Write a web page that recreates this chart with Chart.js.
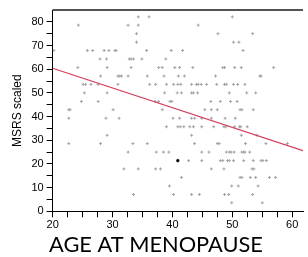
<!DOCTYPE html>
<html>
<head>
<meta charset="utf-8">
<script src="https://cdn.jsdelivr.net/npm/chart.js@4.4.1/dist/chart.umd.min.js"></script>
<style>
  html, body { margin: 0; padding: 0; background: #fff; }
  #wrap { width: 308px; height: 257px; }
</style>
</head>
<body>
<div id="wrap"><canvas id="scatter"></canvas></div>
<script>
// MSRS scaled levels (values come in steps of 100/28) and the ages read at each level
const msrsLevels = [82.1, 78.6, 75.0, 71.4, 67.9, 64.3, 60.7, 57.1, 53.6, 50.0, 46.4, 42.9,
                    39.3, 35.7, 32.1, 28.6, 25.0, 21.4, 17.9, 14.3, 10.7, 7.1, 3.6];
const agesAtLevel = [
  [34.3, 36.1, 50.0],
  [24.3, 32.6, 34.3, 44.3],
  [34.0, 47.6, 53.4],
  [34.0, 50.2, 51.1],
  [20.2, 25.8, 26.7, 28.6, 29.4, 30.4, 30.6, 35.7, 39.8, 41.7, 51.8],
  [27.9, 29.0, 32.8, 33.1, 33.5, 34.9, 38.9],
  [24.2, 29.1, 33.1, 37.7, 38.3, 40.4, 41.2, 43.4, 48.4, 48.7, 50.4, 51.5, 56.9],
  [28.0, 30.9, 31.2, 31.5, 32.6, 35.8, 38.6, 41.0, 42.0, 47.2, 54.6, 54.8],
  [25.1, 25.5, 26.4, 27.6, 30.9, 36.2, 37.2, 39.0, 40.2, 40.9, 41.4, 43.2, 44.0, 44.3, 44.8, 45.7, 47.4, 48.7, 49.0, 50.2, 50.9, 52.1],
  [25.3, 29.1, 38.7, 40.8, 41.5, 43.2, 43.5, 44.2, 49.5, 52.4, 53.9],
  [24.8, 27.6, 37.1, 37.7, 39.6, 39.9, 46.4, 48.0, 49.7, 50.8],
  [22.7, 22.9, 30.1, 38.3, 45.4, 46.5, 47.5, 51.3, 51.6, 53.5],
  [22.7, 28.9, 31.1, 40.1, 41.2, 43.2, 43.7, 44.9, 46.5, 48.8, 50.5],
  [39.0, 40.9, 41.3, 41.9, 42.9, 43.5, 44.9, 46.9, 48.6, 48.9, 50.4, 51.2, 51.4, 52.5],
  [29.1, 43.2, 51.5, 54.1],
  [22.7, 28.0, 33.4, 35.8, 43.7, 47.5, 47.8, 52.2, 55.6, 59.2],
  [32.6, 37.3, 38.5, 39.4, 44.9, 46.1, 49.0, 49.5, 49.8, 50.3, 51.6, 51.9, 52.1, 52.9],
  [42.7, 44.9, 48.0, 48.4, 49.2, 49.5, 50.2, 51.9, 53.5, 54.8, 55.1, 55.7],
  [31.9, 34.3, 37.2, 38.0, 46.5, 48.6, 53.3, 53.6],
  [41.5, 51.3, 51.6, 53.0, 53.9, 56.2, 57.2],
  [39.5, 49.9, 51.0, 54.3],
  [33.5, 40.2, 43.2, 44.5, 48.7, 49.4, 53.4],
  [49.9, 55.0]
];

// the one dark (selected) point
const highlightAge = [40.9];
const highlightMsrs = [21.4];

// fitted regression line, values at the two ends of the x axis
const fitAge = [20, 61.8];
const fitMsrs = [60.4, 25.6];

// ticks
const xTickValues = [20, 22.5, 25, 27.5, 30, 32.5, 35, 37.5, 40, 42.5, 45, 47.5, 50, 52.5, 55, 57.5, 60];
const xLabelValues = [20, 30, 40, 50, 60];
const xTickLabels = ['20', '30', '40', '50', '60'];
const yTickValues = [0, 5, 10, 15, 20, 25, 30, 35, 40, 45, 50, 55, 60, 65, 70, 75, 80];
const yLabelValues = [0, 10, 20, 30, 40, 50, 60, 70, 80];
const yTickLabels = ['0', '10', '20', '30', '40', '50', '60', '70', '80'];

const scatterPoints = [];
msrsLevels.forEach((level, i) => {
  agesAtLevel[i].forEach(age => scatterPoints.push({ x: age, y: level }));
});
const highlightPoints = highlightAge.map((a, i) => ({ x: a, y: highlightMsrs[i] }));
const fitPoints = fitAge.map((a, i) => ({ x: a, y: fitMsrs[i] }));

// dark line along the top of the plot area
const topFrame = {
  id: 'topFrame',
  afterDraw(chart) {
    const { ctx, chartArea } = chart;
    ctx.save();
    ctx.strokeStyle = '#1a1a1a';
    ctx.lineWidth = 1.5;
    ctx.beginPath();
    ctx.moveTo(chartArea.left, chartArea.top);
    ctx.lineTo(chartArea.right, chartArea.top);
    ctx.stroke();
    ctx.restore();
  }
};

const tickFont = { family: 'Liberation Sans', size: 11 };

new Chart(document.getElementById('scatter'), {
  type: 'scatter',
  data: {
    datasets: [
      {
        label: 'fit',
        data: fitPoints,
        showLine: true,
        borderColor: '#d63c5c',
        borderWidth: 1.2,
        pointRadius: 0,
        order: 1
      },
      {
        label: 'selected',
        data: highlightPoints,
        pointStyle: 'circle',
        pointRadius: 1.4,
        backgroundColor: '#000',
        borderColor: '#000',
        borderWidth: 0.5,
        order: 0
      },
      {
        label: 'MSRS',
        data: scatterPoints,
        pointStyle: 'cross',
        pointRadius: 1.5,
        borderColor: '#a3a3a3',
        borderWidth: 1,
        order: 2
      }
    ]
  },
  options: {
    responsive: true,
    maintainAspectRatio: false,
    animation: false,
    devicePixelRatio: 1,
    layout: { padding: { left: 4, top: 10, right: 0, bottom: 0 } },
    plugins: {
      legend: { display: false },
      tooltip: { enabled: false },
      title: {
        display: true,
        text: 'AGE AT MENOPAUSE',
        position: 'bottom',
        color: '#000',
        font: { family: 'Lato', size: 21.8, weight: 'normal', lineHeight: 1.1 },
        padding: { top: 0, bottom: 0.5 }
      }
    },
    scales: {
      x: {
        type: 'linear',
        min: 20,
        max: 61.8,
        afterBuildTicks: axis => { axis.ticks = xTickValues.map(v => ({ value: v })); },
        ticks: {
          autoSkip: false,
          maxRotation: 0,
          padding: 1,
          color: '#000',
          font: tickFont,
          callback: v => { const i = xLabelValues.indexOf(v); return i >= 0 ? xTickLabels[i] : ''; }
        },
        grid: { drawOnChartArea: false, tickLength: 6, color: '#000' },
        border: { color: '#000', width: 1 }
      },
      y: {
        min: 0,
        max: 85,
        afterBuildTicks: axis => { axis.ticks = yTickValues.map(v => ({ value: v })); },
        title: {
          display: true,
          text: 'MSRS scaled',
          color: '#000',
          font: { family: 'Liberation Sans', size: 12 },
          padding: { top: 6, bottom: 4 }
        },
        ticks: {
          autoSkip: false,
          padding: 3,
          color: '#000',
          font: tickFont,
          callback: v => { const i = yLabelValues.indexOf(v); return i >= 0 ? yTickLabels[i] : ''; }
        },
        grid: { drawOnChartArea: false, tickLength: 6, color: '#000' },
        border: { color: '#000', width: 1 }
      }
    }
  },
  plugins: [topFrame]
});
</script>
</body>
</html>
